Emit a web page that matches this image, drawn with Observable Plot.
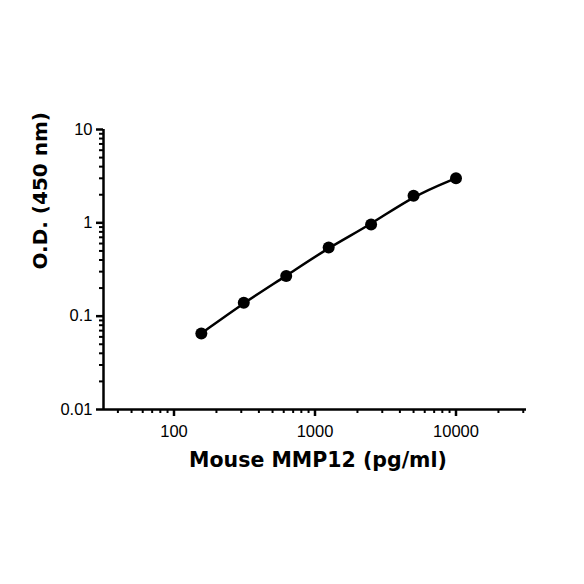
<!DOCTYPE html>
<html><head><meta charset="utf-8">
<script src="https://cdn.jsdelivr.net/npm/d3@7"></script>
<script src="https://cdn.jsdelivr.net/npm/@observablehq/plot@0.6"></script>
<style>html,body{margin:0;padding:0;background:#fff;}</style>
</head><body><div id="chart"></div>
<script>
const concentration = [156.25, 312.5, 625, 1250, 2500, 5000, 10000];
const od = [0.0653, 0.139, 0.270, 0.545, 0.962, 1.95, 3.01];
const xMajor = [100, 1000, 10000];
const xMajorLabels = ["100", "1000", "10000"];
const xMinor = [40,50,60,70,80,90,200,300,400,500,600,700,800,900,2000,3000,4000,5000,6000,7000,8000,9000,20000,30000];
const yMajor = [0.01, 0.1, 1, 10];
const yMajorLabels = ["0.01", "0.1", "1", "10"];
const yMinor = [0.02,0.03,0.04,0.05,0.06,0.07,0.08,0.09,0.2,0.3,0.4,0.5,0.6,0.7,0.8,0.9,2,3,4,5,6,7,8,9];
const xTitle = "Mouse MMP12 (pg/ml)";
const yTitle = "O.D. (450 nm)";

const data = concentration.map((c, i) => ({c, od: od[i]}));
const xDomain = [Math.pow(10, 1.5), Math.pow(10, 4.5)];
const yDomain = [0.01, 10];
const font = "'Liberation Sans', Arial, sans-serif";
const titleFont = "'DejaVu Sans', sans-serif";

const chart = Plot.plot({
  width: 584, height: 584,
  marginLeft: 103, marginRight: 58, marginTop: 129, marginBottom: 175,
  style: {fontFamily: font, fontSize: "16.5px", color: "#000", background: "#fff"},
  x: {type: "log", domain: xDomain, label: null},
  y: {type: "log", domain: yDomain, label: null},
  marks: [
    Plot.axisX(xMinor, {tickSize: 4, strokeWidth: 2, tickFormat: () => "", label: null, stroke: "#000"}),
    Plot.axisX(xMajor, {tickSize: 7, strokeWidth: 2.5, tickPadding: 9, tickFormat: (d) => xMajorLabels[xMajor.indexOf(d)], label: null, fontSize: 16.5, fill: "#000", stroke: "#000"}),
    Plot.axisY(yMinor, {tickSize: 4, strokeWidth: 2, tickFormat: () => "", label: null, stroke: "#000"}),
    Plot.axisY(yMajor, {tickSize: 7, strokeWidth: 2.5, tickPadding: 4, tickFormat: (d) => yMajorLabels[yMajor.indexOf(d)], label: null, fontSize: 16.5, fill: "#000", stroke: "#000"}),
    Plot.ruleY([yDomain[0]], {stroke: "#000", strokeWidth: 2.5}),
    Plot.ruleX([xDomain[0]], {stroke: "#000", strokeWidth: 2.5}),
    Plot.line(data, {x: "c", y: "od", stroke: "#000", strokeWidth: 2.5, curve: "basis"}),
    Plot.dot(data, {x: "c", y: "od", r: 6, fill: "#000", stroke: "none"}),
    Plot.text([xTitle], {frameAnchor: "bottom", dx: 3, dy: 57, fontSize: 20.5, fontWeight: "bold", fontFamily: titleFont, fill: "#000"}),
    Plot.text([yTitle], {frameAnchor: "left", rotate: -90, dx: -63, fontSize: 20, fontWeight: "bold", fontFamily: titleFont, fill: "#000"})
  ]
});
document.getElementById("chart").appendChild(chart);
</script>
</body></html>
